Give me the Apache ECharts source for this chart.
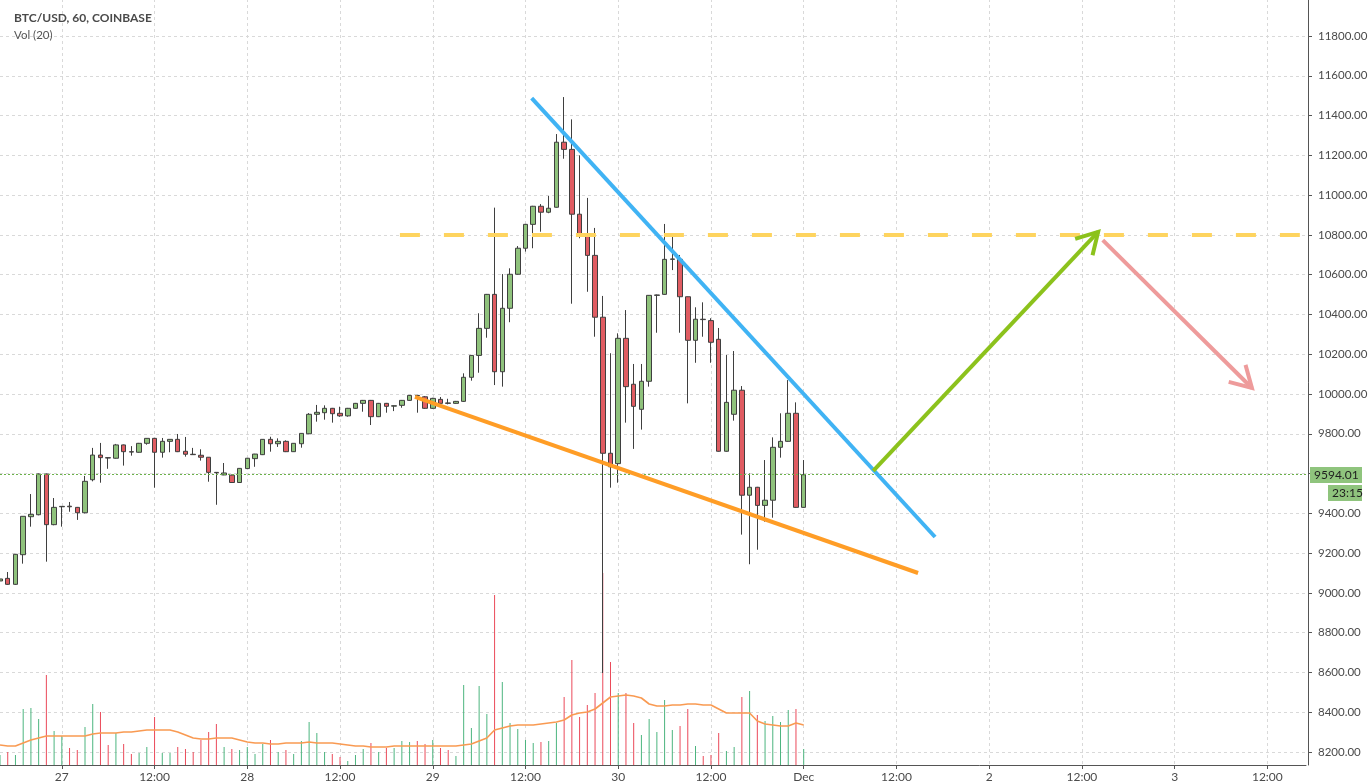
<!DOCTYPE html>
<html>
<head>
<meta charset="utf-8">
<script src="https://cdn.jsdelivr.net/npm/echarts@6/dist/echarts.min.js"></script>
<style>html,body{margin:0;padding:0;background:#fff}#c{width:1369px;height:784px}</style>
</head>
<body>
<div id="c"></div>
<script>
// hours relative to 27 Nov 00:00 (first candle at 26 Nov 16:00)
const firstHour = -8;
const lastAxisHour = 161;
const dayLabels = ['26', '27', '28', '29', '30', 'Dec', '2', '3'];

const opens = [
  9060, 9073, 9043, 9192, 9383, 9393, 9598, 9343,
  9433, 9436, 9430, 9403, 9569, 9693, 9680, 9677, 9744, 9710,
  9707, 9752, 9777, 9707, 9762, 9772, 9712, 9697, 9692, 9682,
  9606, 9593, 9592, 9555, 9625, 9675, 9695, 9772, 9750, 9762,
  9710, 9750, 9800, 9898, 9906, 9928, 9903, 9890, 9928, 9953,
  9968, 9886, 9953, 9939, 9943, 9968, 9993, 9986, 9928, 9973,
  9955, 9953, 9963, 10084, 10194, 10330, 10501, 10112, 10431, 10602,
  10733, 10853, 10944, 10914, 10939, 11266, 11230, 10904, 10793, 10697,
  10386, 9702, 9650, 10280, 10049, 9923, 10064, 10496, 10501, 10677,
  10677, 10489, 10270, 10376, 10369, 10275, 9712, 9898, 10019, 9491,
  9531, 9440, 9466, 9732, 9762, 9903, 9430
];
const closes = [
  9070, 9043, 9194, 9385, 9395, 9598, 9343, 9430,
  9435, 9433, 9403, 9561, 9693, 9680, 9678, 9744, 9710, 9708,
  9752, 9777, 9707, 9762, 9772, 9710, 9697, 9695, 9682, 9606,
  9604, 9603, 9555, 9626, 9677, 9698, 9772, 9750, 9762, 9710,
  9752, 9802, 9898, 9908, 9928, 9901, 9890, 9928, 9953, 9968,
  9886, 9953, 9938, 9941, 9968, 9993, 9991, 9928, 9978, 9953,
  9953, 9963, 10084, 10194, 10330, 10501, 10112, 10431, 10602, 10733,
  10853, 10944, 10914, 10934, 11266, 11230, 10904, 10804, 10697, 10386,
  9702, 9634, 10280, 10037, 9938, 10064, 10496, 10498, 10677, 10679,
  10489, 10270, 10376, 10374, 10260, 9712, 9958, 10019, 9491, 9531,
  9440, 9466, 9732, 9762, 9903, 9430, 9594.01
];
const lows = [
  9050, 9040, 9040, 9147, 9333, 9390, 9157, 9340,
  9333, 9408, 9367, 9400, 9561, 9554, 9624, 9675, 9640, 9690,
  9705, 9745, 9529, 9680, 9707, 9708, 9685, 9694, 9665, 9559,
  9443, 9592, 9553, 9553, 9624, 9634, 9693, 9710, 9734, 9708,
  9709, 9730, 9799, 9861, 9871, 9856, 9885, 9886, 9926, 9911,
  9844, 9884, 9906, 9914, 9931, 9966, 9906, 9925, 9925, 9950,
  9948, 9951, 9960, 10067, 10107, 10283, 10045, 10037, 10361, 10600,
  10716, 10733, 10816, 10909, 10937, 11183, 10454, 10783, 10514, 10288,
  8597, 9529, 9554, 9856, 9724, 9821, 10037, 10308, 10499, 10623,
  10308, 9953, 10157, 10288, 10157, 9710, 9710, 9866, 9293, 9144,
  9217, 9358, 9378, 9680, 9760, 9428, 9428
];
const highs = [
  9080, 9105, 9196, 9386, 9497, 9600, 9600, 9477,
  9436, 9457, 9432, 9588, 9729, 9754, 9682, 9749, 9746, 9738,
  9754, 9778, 9779, 9779, 9773, 9799, 9784, 9729, 9722, 9683,
  9607, 9653, 9595, 9627, 9678, 9699, 9773, 9785, 9777, 9767,
  9753, 9803, 9904, 9945, 9943, 9930, 9936, 9930, 9955, 9970,
  9970, 9955, 9955, 9942, 9970, 9995, 9996, 9990, 9981, 9985,
  9976, 9965, 10104, 10196, 10406, 10503, 10937, 10603, 10632, 10744,
  10855, 10946, 10955, 10996, 11307, 11493, 11381, 11200, 10986, 10835,
  10493, 10205, 10305, 10422, 10151, 10151, 10497, 10500, 10855, 10794,
  10699, 10490, 10436, 10461, 10381, 10332, 10196, 10216, 10040, 9601,
  9533, 9668, 9782, 9903, 10070, 9958, 9668
];
const volumes = [
  100, 130, 100, 560, 570, 460, 900, 340,
  290, 170, 150, 380, 610, 530, 200, 320, 210, 110,
  120, 180, 480, 120, 120, 180, 160, 130, 250, 330,
  410, 180, 160, 150, 180, 110, 210, 250, 130, 150,
  110, 240, 430, 320, 130, 110, 80, 40, 100, 160,
  220, 130, 170, 170, 240, 230, 240, 210, 250, 170,
  150, 90, 800, 370, 790, 510, 1700, 830, 420, 360,
  250, 220, 230, 240, 420, 680, 1050, 480, 600, 720,
  1920, 1030, 720, 720, 420, 300, 460, 330, 650, 350,
  390, 560, 190, 90, 100, 320, 140, 180, 680, 740,
  500, 440, 490, 430, 550, 560, 160
];
const volumeMA = [
  200, 190, 190, 220, 250, 270, 290, 290,
  290, 290, 290, 290, 310, 320, 320, 320, 330, 330,
  340, 350, 350, 350, 350, 330, 300, 270, 260, 260,
  270, 270, 270, 250, 230, 220, 220, 210, 210, 220,
  220, 220, 230, 220, 220, 220, 210, 200, 190, 190,
  180, 180, 180, 190, 190, 190, 190, 190, 190, 190,
  190, 190, 200, 210, 240, 270, 350, 370, 390, 400,
  400, 400, 410, 420, 430, 450, 500, 520, 530, 560,
  620, 680, 690, 700, 690, 670, 610, 590, 590, 600,
  600, 610, 610, 600, 600, 560, 520, 520, 520, 520,
  440, 410, 400, 390, 390, 420, 400
];
const lastPrice = 9594.01;
const countdown = '23:15';

// drawings: [hour1, price1, hour2, price2]
const resistanceLine = [60.8, 11488, 113.0, 9281];
const supportLine = [45.7, 9985, 110.8, 9100];
const targetLevel = [43.75, 10800, 160.2, 10800];
const upArrow = [105.0, 9613, 134.1, 10815];
const downArrow = [134.7, 10774, 154.0, 10030];

const priceMin = 8134.6, priceMax = 11986.1;

const categories = [];
for (let h = firstHour; h <= lastAxisHour; h++) {
  const d = Math.floor(h / 24);
  const hr = ((h % 24) + 24) % 24;
  categories.push(dayLabels[d + 1] + ' ' + (hr < 10 ? '0' : '') + hr + ':00');
}
function isMajor(index) { return (index + firstHour) % 12 === 0; }
function tickLabel(value, index) {
  const h = index + firstHour;
  const d = Math.floor(h / 24);
  const hr = ((h % 24) + 24) % 24;
  return hr === 0 ? dayLabels[d + 1] : '12:00';
}

const UP = '#8fc27c', DOWN = '#e05c62';
const VUP = '#4cb57f', VDOWN = '#eb4a5a';
const candleData = opens.map((o, i) => [o, closes[i], lows[i], highs[i]]);
const volData = volumes.map((v, i) => ({
  value: v,
  itemStyle: { color: closes[i] >= opens[i] ? VUP : VDOWN }
}));

function segRender(color, width, dash, arrow) {
  return function (params, api) {
    const a = api.coord([api.value(0), api.value(1)]);
    const b = api.coord([api.value(2), api.value(3)]);
    const kids = [{
      type: 'line',
      shape: { x1: a[0], y1: a[1], x2: b[0], y2: b[1] },
      style: { stroke: color, lineWidth: width, lineDash: dash || null, lineCap: 'butt', fill: null }
    }];
    if (arrow) {
      const ang = Math.atan2(b[1] - a[1], b[0] - a[0]);
      const L = 24, sp = 0.52;
      const p1 = [b[0] - L * Math.cos(ang - sp), b[1] - L * Math.sin(ang - sp)];
      const p2 = [b[0] - L * Math.cos(ang + sp), b[1] - L * Math.sin(ang + sp)];
      kids.push({
        type: 'polyline',
        shape: { points: [p1, b, p2] },
        style: { stroke: color, lineWidth: width, fill: null, lineJoin: 'miter' }
      });
    }
    return { type: 'group', children: kids };
  };
}
function drawing(name, seg, color, width, dash, arrow) {
  return {
    name: name, type: 'custom', xAxisIndex: 2, yAxisIndex: 0, z: 5, silent: true,
    encode: { x: [0, 2], y: [1, 3] },
    data: [seg],
    renderItem: segRender(color, width, dash, arrow)
  };
}

const gridLine = { color: '#d9d9d9', type: [3, 3], width: 1 };
const FONT = 'Lato, "Open Sans", sans-serif';

const chart = echarts.init(document.getElementById('c'), null, { renderer: 'canvas' });
chart.setOption({
  animation: false,
  backgroundColor: '#ffffff',
  textStyle: { fontFamily: FONT },
  title: [
    { text: 'BTC/USD, 60, COINBASE', left: 9, top: 7,
      textStyle: { fontSize: 12, fontWeight: 'bold', color: '#4a4a4a', fontFamily: FONT } },
    { text: 'Vol (20)', left: 9, top: 24,
      textStyle: { fontSize: 11.5, fontWeight: 'normal', color: '#555555', fontFamily: FONT } }
  ],
  grid: [
    { left: 0, right: 63, top: -1, bottom: 19, containLabel: false, outerBoundsMode: 'none' },
    { left: 0, right: 63, height: 200, bottom: 19, containLabel: false, outerBoundsMode: 'none' }
  ],
  xAxis: [
    { type: 'category', gridIndex: 0, data: categories, boundaryGap: false,
      axisLine: { show: true, onZero: false, lineStyle: { color: '#555555', width: 1 } },
      axisTick: { show: true, interval: isMajor, length: 4, lineStyle: { color: '#555555' } },
      axisLabel: { show: true, interval: isMajor, formatter: tickLabel, color: '#4a4a4a',
        fontSize: 12, margin: 6, fontFamily: FONT, hideOverlap: false },
      splitLine: { show: true, interval: isMajor, lineStyle: gridLine } },
    { type: 'category', gridIndex: 1, data: categories, boundaryGap: false, show: false,
      axisLine: { onZero: false } },
    { type: 'value', gridIndex: 0, min: firstHour, max: lastAxisHour, show: false,
      axisLine: { show: false, onZero: false }, axisTick: { show: false },
      splitLine: { show: false } }
  ],
  yAxis: [
    { type: 'value', gridIndex: 0, position: 'right', offset: 2,
      min: priceMin, max: priceMax, minInterval: 200, maxInterval: 200, splitNumber: 19,
      axisLine: { show: true, onZero: false, lineStyle: { color: '#555555', width: 1 } },
      axisTick: { show: true, length: 4, lineStyle: { color: '#555555' } },
      axisLabel: { color: '#4a4a4a', fontSize: 11.5, margin: 10, fontFamily: FONT,
        showMinLabel: false, showMaxLabel: false,
        formatter: v => v.toFixed(2) },
      splitLine: { show: true, showMinLine: false, showMaxLine: false, lineStyle: gridLine } },
    { type: 'value', gridIndex: 1, min: 0, max: 2000, show: false,
      axisLine: { onZero: false }, splitLine: { show: false } }
  ],
  series: [
    { name: 'Vol', type: 'bar', xAxisIndex: 1, yAxisIndex: 1, barWidth: 1, data: volData, z: 1 },
    { name: 'Vol MA', type: 'line', xAxisIndex: 1, yAxisIndex: 1, data: volumeMA, showSymbol: false,
      symbol: 'none', lineStyle: { color: '#f99a52', width: 1.6 }, z: 2 },
    { name: 'BTC/USD', type: 'candlestick', xAxisIndex: 0, yAxisIndex: 0, data: candleData,
      barWidth: 5, z: 3,
      itemStyle: { color: UP, color0: DOWN, borderColor: '#3f3f3f', borderColor0: '#3f3f3f', borderWidth: 1 },
      markLine: { silent: true, symbol: ['none', 'none'], label: { show: false },
        lineStyle: { color: '#6cb24a', type: [2, 2], width: 1 },
        data: [{ yAxis: lastPrice }] } },
    drawing('target', targetLevel, '#fed45f', 4, [20, 24], false),
    drawing('support', supportLine, '#ff9d26', 4, null, false),
    drawing('resistance', resistanceLine, '#40b3f4', 4, null, false),
    drawing('up', upArrow, '#8cc21c', 4, null, true),
    drawing('down', downArrow, '#ee9b9b', 4, null, true)
  ]
});

const py = chart.convertToPixel({ yAxisIndex: 0 }, lastPrice);
chart.setOption({
  graphic: [
    { type: 'rect', shape: { x: 1310, y: Math.round(py) - 8, width: 52, height: 16 },
      style: { fill: '#8fc47d' }, z: 20 },
    { type: 'text', x: 1314, y: Math.round(py), z: 21,
      style: { text: lastPrice.toFixed(2), fill: '#1e1e1e', font: '12px ' + FONT, textVerticalAlign: 'middle', verticalAlign: 'middle' } },
    { type: 'rect', shape: { x: 1328, y: Math.round(py) + 10, width: 34, height: 16 },
      style: { fill: '#8fc47d' }, z: 20 },
    { type: 'text', x: 1332, y: Math.round(py) + 18, z: 21,
      style: { text: countdown, fill: '#1e1e1e', font: '12px ' + FONT, textVerticalAlign: 'middle', verticalAlign: 'middle' } }
  ]
});
</script>
</body>
</html>
